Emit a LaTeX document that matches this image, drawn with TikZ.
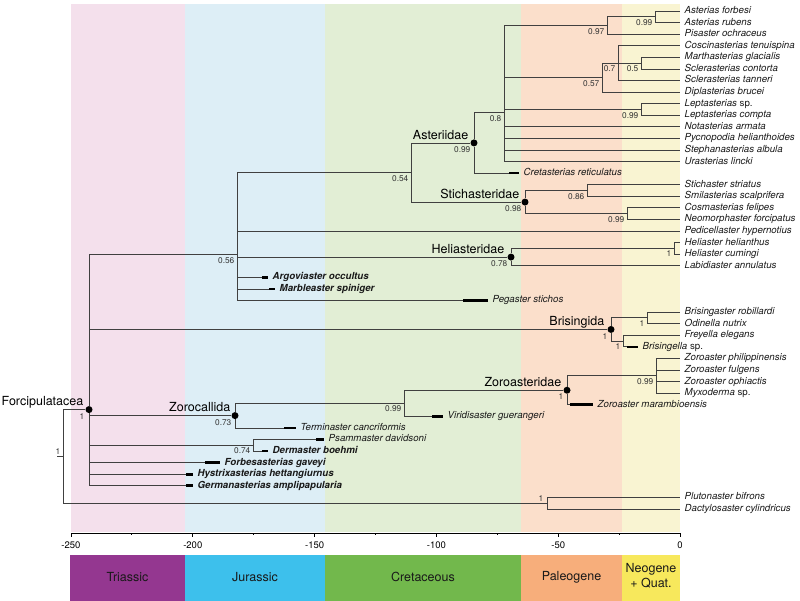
\documentclass[tikz,border=0pt]{standalone}
\usepackage{fontspec}
\setmainfont{TeX Gyre Heros}
\usepackage{tikz}
\usetikzlibrary{calc}

\definecolor{triasbg}{HTML}{F4E0EC}
\definecolor{jurabg}{HTML}{DDEEF6}
\definecolor{cretbg}{HTML}{E2EED5}
\definecolor{paleobg}{HTML}{FBDFCB}
\definecolor{neobg}{HTML}{F9F4D2}
\definecolor{triasbar}{HTML}{943790}
\definecolor{jurabar}{HTML}{3DC0EC}
\definecolor{cretbar}{HTML}{72B84C}
\definecolor{paleobar}{HTML}{F7AE7B}
\definecolor{neobar}{HTML}{F7E85C}

% row of a tip, in pixels from the top
\pgfmathdeclarefunction{rowy}{1}{\pgfmathparse{11+11.58*#1}}

\tikzstyle{taxon} = [anchor=west, inner xsep=4.5pt, inner ysep=0pt, text height=7pt, text depth=2pt, font=\fontsize{9.7}{11}\selectfont\itshape, text=black!90]
\tikzstyle{fossil} = [taxon, font=\fontsize{9.7}{11}\selectfont\bfseries\itshape]
\tikzstyle{clade} = [circle, fill=black, inner sep=0pt, minimum size=7pt]
\tikzstyle{support} = [anchor=north east, inner sep=0.5pt, font=\fontsize{8.3}{9}\selectfont, text=black!80]
\tikzstyle{supportup} = [support, anchor=south east]
\tikzstyle{cladename} = [anchor=south east, inner sep=0.5pt, text depth=0pt, font=\fontsize{12.5}{14}\selectfont]
\tikzstyle{branch} = [draw=black!75, line width=0.75pt]
\tikzstyle{strat} = [line width=2.6pt, black]
\tikzstyle{axislabel} = [font=\fontsize{9.5}{11}\selectfont]
\tikzstyle{period} = [font=\fontsize{12.5}{15}\selectfont, align=center, text=black!90]

\begin{document}
\begin{tikzpicture}[x=1pt, y=-1pt]
\useasboundingbox (0,0) rectangle (800,601);

% Time bands
\fill [triasbg] (71,4) rectangle (185,532);
\fill [jurabg] (185,4) rectangle (325,532);
\fill [cretbg] (325,4) rectangle (521,532);
\fill [paleobg] (521,4) rectangle (622,532);
\fill [neobg] (622,4) rectangle (680,532);

% Tips
\node (forbesi) [taxon] at (680,{rowy(0)}) {Asterias forbesi};
\node (rubens) [taxon] at (680,{rowy(1)}) {Asterias rubens};
\node (pisaster) [taxon] at (680,{rowy(2)}) {Pisaster ochraceus};
\node (coscin) [taxon] at (680,{rowy(3)}) {Coscinasterias tenuispina};
\node (marth) [taxon] at (680,{rowy(4)}) {Marthasterias glacialis};
\node (sclcont) [taxon] at (680,{rowy(5)}) {Sclerasterias contorta};
\node (scltann) [taxon] at (680,{rowy(6)}) {Sclerasterias tanneri};
\node (diplas) [taxon] at (680,{rowy(7)}) {Diplasterias brucei};
\node (leptsp) [taxon] at (680,{rowy(8)}) {Leptasterias \upshape sp.};
\node (leptcom) [taxon] at (680,{rowy(9)}) {Leptasterias compta};
\node (notas) [taxon] at (680,{rowy(10)}) {Notasterias armata};
\node (pycno) [taxon] at (680,{rowy(11)}) {Pycnopodia helianthoides};
\node (stephan) [taxon] at (680,{rowy(12)}) {Stephanasterias albula};
\node (uras) [taxon] at (680,{rowy(13)}) {Urasterias lincki};
\node (cretas) [taxon] at (519,{rowy(14)}) {Cretasterias reticulatus};
\node (stichas) [taxon] at (680,{rowy(15)}) {Stichaster striatus};
\node (smilas) [taxon] at (680,{rowy(16)}) {Smilasterias scalprifera};
\node (cosmas) [taxon] at (680,{rowy(17)}) {Cosmasterias felipes};
\node (neomor) [taxon] at (680,{rowy(18)}) {Neomorphaster forcipatus};
\node (pedic) [taxon] at (680,{rowy(19)}) {Pedicellaster hypernotius};
\node (helhel) [taxon] at (680,{rowy(20)}) {Heliaster helianthus};
\node (helcum) [taxon] at (680,{rowy(21)}) {Heliaster cumingi};
\node (labid) [taxon] at (680,{rowy(22)}) {Labidiaster annulatus};
\node (argov) [fossil] at (268,{rowy(23)}) {Argoviaster occultus};
\node (marble) [fossil] at (275,{rowy(24)}) {Marbleaster spiniger};
\node (pegas) [taxon] at (488,{rowy(25)}) {Pegaster stichos};
\node (brisrob) [taxon] at (680,{rowy(26)}) {Brisingaster robillardi};
\node (odin) [taxon] at (680,{rowy(27)}) {Odinella nutrix};
\node (freye) [taxon] at (680,{rowy(28)}) {Freyella elegans};
\node (brisella) [taxon] at (638,{rowy(29)}) {Brisingella \upshape sp.};
\node (zorphil) [taxon] at (680,{rowy(30)}) {Zoroaster philippinensis};
\node (zorful) [taxon] at (680,{rowy(31)}) {Zoroaster fulgens};
\node (zoroph) [taxon] at (680,{rowy(32)}) {Zoroaster ophiactis};
\node (myxo) [taxon] at (680,{rowy(33)}) {Myxoderma \upshape sp.};
\node (zormar) [taxon] at (593,{rowy(34)}) {Zoroaster marambioensis};
\node (virid) [taxon] at (443,{rowy(35)}) {Viridisaster guerangeri};
\node (termin) [taxon] at (296,{rowy(36)}) {Terminaster cancriformis};
\node (psamm) [taxon] at (324,{rowy(37)}) {Psammaster davidsoni};
\node (derm) [fossil] at (268,{rowy(38)}) {Dermaster boehmi};
\node (forbes) [fossil] at (220,{rowy(39)}) {Forbesasterias gaveyi};
\node (hystrix) [fossil] at (193,{rowy(40)}) {Hystrixasterias hettangiurnus};
\node (german) [fossil] at (193,{rowy(41)}) {Germanasterias amplipapularia};
\node (pluto) [taxon] at (680,{rowy(42)}) {Plutonaster bifrons};
\node (dactyl) [taxon] at (680,{rowy(43)}) {Dactylosaster cylindricus};

% Starts of the fossil ranges
\coordinate (cretasbar) at (509,{rowy(14)});
\coordinate (argovbar) at (262,{rowy(23)});
\coordinate (marblebar) at (269,{rowy(24)});
\coordinate (pegasbar) at (463,{rowy(25)});
\coordinate (brisellabar) at (627,{rowy(29)});
\coordinate (zormarbar) at (570,{rowy(34)});
\coordinate (viridbar) at (432,{rowy(35)});
\coordinate (terminbar) at (284,{rowy(36)});
\coordinate (psammbar) at (316,{rowy(37)});
\coordinate (dermbar) at (262,{rowy(38)});
\coordinate (forbesbar) at (205,{rowy(39)});
\coordinate (hystrixbar) at (186,{rowy(40)});
\coordinate (germanbar) at (186,{rowy(41)});

% Inner nodes
\coordinate (asterias) at (655,{rowy(0.5)});
\coordinate (pisclade) at (607,{rowy(1.25)});
\coordinate (marclade) at (641,{rowy(4.5)});
\coordinate (cocclade) at (618,{rowy(4.5)});
\coordinate (dipclade) at (602,{rowy(5.75)});
\coordinate (leptclade) at (641,{rowy(8.5)});
\coordinate (ast08) at (504,{rowy(8.79)});
\node (asteriidae) [clade] at (474,{rowy(11.39)}) {};
\coordinate (stiscl) at (587,{rowy(15.5)});
\coordinate (cosmcl) at (627,{rowy(17.5)});
\node (stichasteridae) [clade] at (525,{rowy(16.5)}) {};
\coordinate (n054) at (411,{rowy(13.95)});
\coordinate (helcl) at (674,{rowy(20.5)});
\node (heliasteridae) [clade] at (511,{rowy(21.25)}) {};
\coordinate (n056) at (237,{rowy(21.03)});
\coordinate (brisA) at (647,{rowy(26.5)});
\coordinate (brisB) at (623,{rowy(28.5)});
\node (brisingida) [clade] at (611,{rowy(27.5)}) {};
\coordinate (zorcl) at (656,{rowy(31.5)});
\node (zoroasteridae) [clade] at (567,{rowy(32.75)}) {};
\coordinate (n099) at (404,{rowy(33.875)});
\node (zorocallida) [clade] at (235,{rowy(34.94)}) {};
\coordinate (dermcl) at (253,{rowy(37.5)});
\node (forcipulatacea) [clade] at (89,{rowy(34.42)}) {};
\coordinate (plucl) at (547,{rowy(42.5)});
\coordinate (root) at (63,{rowy(38.46)});
\coordinate (stem) at (57,{rowy(38.46)});

% Support values
\node (sasterias) [support] at ([shift={(-2pt,-2pt)}]asterias) {0.99};
\node (spisclade) [support] at ([shift={(-2pt,-2pt)}]pisclade) {0.97};
\node (smarclade) [support] at ([shift={(-2pt,-2pt)}]marclade) {0.5};
\node (scocclade) [support] at ([shift={(-2pt,-2pt)}]cocclade) {0.7};
\node (sdipclade) [support] at ([shift={(-2pt,-2pt)}]dipclade) {0.57};
\node (sleptclade) [support] at ([shift={(-2pt,-2pt)}]leptclade) {0.99};
\node (sast08) [support] at ([shift={(-2pt,-2pt)}]ast08) {0.8};
\node (sasteriidae) [support] at ([shift={(-3pt,-3pt)}]asteriidae) {0.99};
\node (sstiscl) [support] at ([shift={(-2pt,-2pt)}]stiscl) {0.86};
\node (scosmcl) [support] at ([shift={(-2pt,-2pt)}]cosmcl) {0.99};
\node (sstichasteridae) [support] at ([shift={(-3pt,-3pt)}]stichasteridae) {0.98};
\node (sn054) [support] at ([shift={(-2pt,-2pt)}]n054) {0.54};
\node (shelcl) [support] at ([shift={(-2pt,-2pt)}]helcl) {1};
\node (sheliasteridae) [support] at ([shift={(-3pt,-3pt)}]heliasteridae) {0.78};
\node (sn056) [support] at ([shift={(-2pt,-2pt)}]n056) {0.56};
\node (sbrisA) [support] at ([shift={(-2pt,-2pt)}]brisA) {1};
\node (sbrisB) [support] at ([shift={(-2pt,-2pt)}]brisB) {1};
\node (sbrisingida) [support] at ([shift={(-3pt,-3pt)}]brisingida) {1};
\node (szorcl) [support] at ([shift={(-2pt,-2pt)}]zorcl) {0.99};
\node (szoroasteridae) [support] at ([shift={(-3pt,-3pt)}]zoroasteridae) {1};
\node (sn099) [support] at ([shift={(-2pt,-2pt)}]n099) {0.99};
\node (szorocallida) [support] at ([shift={(-3pt,-3pt)}]zorocallida) {0.73};
\node (sdermcl) [support] at ([shift={(-2pt,-2pt)}]dermcl) {0.74};
\node (sforcipulatacea) [support] at ([shift={(-4pt,-3pt)}]forcipulatacea) {1};
\node (splucl) [supportup] at ([shift={(-3pt,1pt)}]plucl) {1};
\node (sroot) [supportup] at ([shift={(-2pt,1.5pt)}]root) {1};

% Clade names
\node (lasteriidae) [cladename] at ([shift={(-5pt,3pt)}]asteriidae) {Asteriidae};
\node (lstichasteridae) [cladename] at ([shift={(-5pt,3pt)}]stichasteridae) {Stichasteridae};
\node (lheliasteridae) [cladename] at ([shift={(-6pt,3pt)}]heliasteridae) {Heliasteridae};
\node (lbrisingida) [cladename] at ([shift={(-6pt,3pt)}]brisingida) {Brisingida};
\node (lzoroasteridae) [cladename] at ([shift={(-5pt,3pt)}]zoroasteridae) {Zoroasteridae};
\node (lzorocallida) [cladename] at ([shift={(-4pt,3pt)}]zorocallida) {Zorocallida};
\node (lforcipulatacea) [cladename] at ([shift={(-5pt,3pt)}]forcipulatacea) {Forcipulatacea};

% Branches
\draw [branch] (asterias) |- (forbesi) (asterias) |- (rubens);
\draw [branch] (pisclade) |- (asterias) (pisclade) |- (pisaster);
\draw [branch] (marclade) |- (marth) (marclade) |- (sclcont);
\draw [branch] (cocclade) |- (coscin) (cocclade) |- (marclade) (cocclade) |- (scltann);
\draw [branch] (dipclade) |- (cocclade) (dipclade) |- (diplas);
\draw [branch] (leptclade) |- (leptsp) (leptclade) |- (leptcom);
\draw [branch] (ast08) |- (pisclade) (ast08) |- (dipclade) (ast08) |- (leptclade) (ast08) |- (notas) (ast08) |- (pycno) (ast08) |- (stephan) (ast08) |- (uras);
\draw [branch] (asteriidae) |- (ast08) (asteriidae) |- (cretas);
\draw [branch] (stiscl) |- (stichas) (stiscl) |- (smilas);
\draw [branch] (cosmcl) |- (cosmas) (cosmcl) |- (neomor);
\draw [branch] (stichasteridae) |- (stiscl) (stichasteridae) |- (cosmcl);
\draw [branch] (n054) |- (asteriidae) (n054) |- (stichasteridae);
\draw [branch] (helcl) |- (helhel) (helcl) |- (helcum);
\draw [branch] (heliasteridae) |- (helcl) (heliasteridae) |- (labid);
\draw [branch] (n056) |- (n054) (n056) |- (pedic) (n056) |- (heliasteridae) (n056) |- (argov) (n056) |- (marble) (n056) |- (pegas);
\draw [branch] (brisA) |- (brisrob) (brisA) |- (odin);
\draw [branch] (brisB) |- (freye) (brisB) |- (brisella);
\draw [branch] (brisingida) |- (brisA) (brisingida) |- (brisB);
\draw [branch] (zorcl) |- (zorphil) (zorcl) |- (zorful) (zorcl) |- (zoroph) (zorcl) |- (myxo);
\draw [branch] (zoroasteridae) |- (zorcl) (zoroasteridae) |- (zormar);
\draw [branch] (n099) |- (zoroasteridae) (n099) |- (virid);
\draw [branch] (zorocallida) |- (n099) (zorocallida) |- (termin);
\draw [branch] (dermcl) |- (psamm) (dermcl) |- (derm);
\draw [branch] (forcipulatacea) |- (n056) (forcipulatacea) |- (brisingida) (forcipulatacea) |- (zorocallida) (forcipulatacea) |- (dermcl) (forcipulatacea) |- (forbes) (forcipulatacea) |- (hystrix) (forcipulatacea) |- (german);
\draw [branch] (plucl) |- (pluto) (plucl) |- (dactyl);
\draw [branch] (root) |- (forcipulatacea) (root) |- (plucl);
\draw [branch] (stem) -- (root);

% Fossil ranges
\draw [strat] (cretasbar) -- (cretas);
\draw [strat] (argovbar) -- (argov);
\draw [strat] (marblebar) -- (marble);
\draw [strat] (pegasbar) -- (pegas);
\draw [strat] (brisellabar) -- (brisella);
\draw [strat] (zormarbar) -- (zormar);
\draw [strat] (viridbar) -- (virid);
\draw [strat] (terminbar) -- (termin);
\draw [strat] (psammbar) -- (psamm);
\draw [strat] (dermbar) -- (derm);
\draw [strat] (forbesbar) -- (forbes);
\draw [strat] (hystrixbar) -- (hystrix);
\draw [strat] (germanbar) -- (german);

% Time axis
\draw [line width=0.9pt] (71,533) -- (680,533);
\foreach \ma in {-225,-175,...,-25}
  \draw [line width=0.9pt] ({680+2.436*\ma},533) -- ++(0,2);
\foreach \ma [count=\k] in {-250,-200,...,0} {
  \draw [line width=0.9pt] ({680+2.436*\ma},533) -- ++(0,4);
  \node (tick\k) [axislabel] at ({680+2.436*\ma},545) {\ma};
}

% Periods
\fill [triasbar] (70,555) rectangle (185,601);
\fill [jurabar] (185,555) rectangle (325,601);
\fill [cretbar] (325,555) rectangle (521,601);
\fill [paleobar] (521,555) rectangle (622,601);
\fill [neobar] (622,555) rectangle (680,601);
\node (triassic) [period] at (127.5,577) {Triassic};
\node (jurassic) [period] at (255,577) {Jurassic};
\node (cretaceous) [period] at (423,577) {Cretaceous};
\node (paleogene) [period] at (571.5,577) {Paleogene};
\node (neogene) [period] at (651,576) {Neogene\\+ Quat.};

\end{tikzpicture}
\end{document}
